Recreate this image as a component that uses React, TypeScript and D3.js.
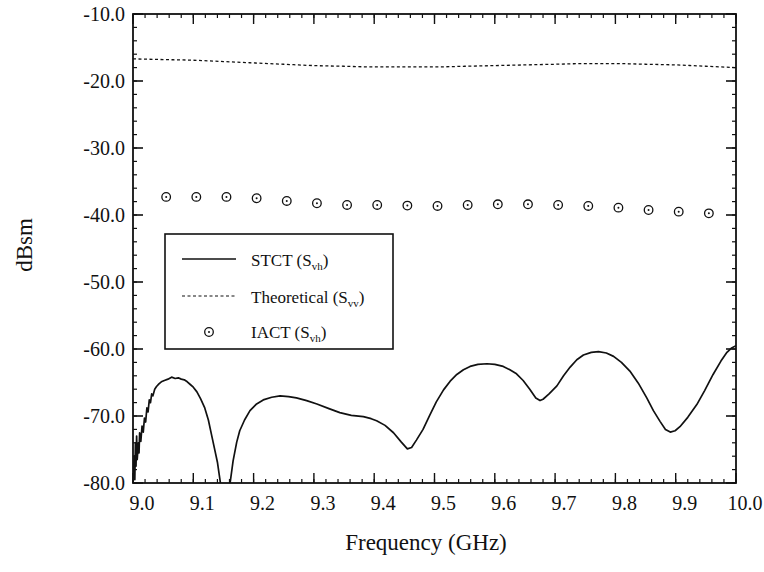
import React from "react";
import * as d3 from "d3";

// ---------- data ----------
const xTickValues = [9.0, 9.1, 9.2, 9.3, 9.4, 9.5, 9.6, 9.7, 9.8, 9.9, 10.0];
const xTickLabels = ["9.0", "9.1", "9.2", "9.3", "9.4", "9.5", "9.6", "9.7", "9.8", "9.9", "10.0"];
const yTickValues = [-10, -20, -30, -40, -50, -60, -70, -80];
const yTickLabels = ["-10.0", "-20.0", "-30.0", "-40.0", "-50.0", "-60.0", "-70.0", "-80.0"];

// STCT (S_vh) measured curve
const stctFreq = [
  9.0, 9.002, 9.003, 9.004, 9.005, 9.006, 9.007, 9.009, 9.01, 9.011, 9.013, 9.015, 9.017, 9.019,
  9.021, 9.023, 9.025, 9.027, 9.029, 9.031, 9.033, 9.036, 9.039, 9.043, 9.047, 9.052, 9.058, 9.064,
  9.07, 9.075, 9.08, 9.085, 9.09, 9.095, 9.1, 9.106, 9.112, 9.119, 9.125, 9.13, 9.135, 9.14, 9.145,
  9.15, 9.155, 9.161, 9.166, 9.172, 9.177, 9.185, 9.194, 9.205, 9.216, 9.23, 9.244, 9.258, 9.271,
  9.288, 9.305, 9.325, 9.343, 9.362, 9.382, 9.395, 9.404, 9.418, 9.432, 9.445, 9.455, 9.462, 9.47,
  9.481, 9.492, 9.503, 9.515, 9.526, 9.537, 9.548, 9.559, 9.572, 9.587, 9.6, 9.614, 9.625, 9.636,
  9.647, 9.658, 9.668, 9.675, 9.68, 9.69, 9.703, 9.714, 9.725, 9.736, 9.747, 9.76, 9.772, 9.785,
  9.797, 9.81, 9.824, 9.838, 9.852, 9.863, 9.874, 9.883, 9.891, 9.899, 9.907, 9.92, 9.935, 9.948,
  9.962, 9.975, 9.985, 9.992, 10.0,
];
const stctDb = [
  -80.0, -76.0, -79.5, -74.0, -77.5, -73.0, -76.5, -74.0, -75.5, -72.5, -73.8, -71.5, -72.4, -70.3,
  -70.9, -68.8, -69.4, -67.6, -68.0, -66.7, -67.0, -66.0, -65.6, -65.2, -64.9, -64.7, -64.5, -64.2,
  -64.4, -64.3, -64.5, -64.6, -64.9, -65.3, -65.7, -66.4, -67.4, -68.8, -70.6, -72.7, -74.8, -76.9, -80.0,
  -86.0, -86.0, -80.0, -76.7, -73.9, -72.2, -70.6, -69.2, -68.2, -67.6, -67.2, -67.0, -67.1, -67.3,
  -67.7, -68.2, -68.9, -69.5, -69.9, -70.1, -70.4, -70.7, -71.4, -72.5, -73.9, -74.9, -74.7, -73.6,
  -72.0, -69.9, -67.9, -66.1, -64.8, -63.8, -63.1, -62.6, -62.3, -62.2, -62.3, -62.6, -63.1, -63.7,
  -64.7, -66.0, -67.3, -67.7, -67.5, -66.7, -65.5, -64.0, -62.7, -61.6, -60.9, -60.5, -60.4, -60.6,
  -61.1, -62.0, -63.3, -65.1, -67.3, -69.2, -70.8, -72.0, -72.4, -72.2, -71.6, -70.2, -68.3, -66.2,
  -63.8, -61.8, -60.5, -59.9, -59.5,
];

// Theoretical (S_vv)
const theoFreq = [9.0, 9.05, 9.1, 9.15, 9.2, 9.25, 9.3, 9.35, 9.4, 9.45, 9.5, 9.55, 9.6, 9.65, 9.7, 9.75, 9.8, 9.85, 9.9, 9.95, 10.0];
const theoDb = [-16.7, -16.8, -16.9, -17.1, -17.3, -17.5, -17.7, -17.8, -17.9, -17.9, -17.9, -17.8, -17.7, -17.6, -17.5, -17.4, -17.4, -17.5, -17.6, -17.8, -18.0];

// IACT (S_vh)
const iactFreq = [9.055, 9.105, 9.155, 9.205, 9.255, 9.305, 9.355, 9.405, 9.455, 9.505, 9.555, 9.605, 9.655, 9.705, 9.755, 9.805, 9.855, 9.905, 9.955];
const iactDb = [-37.3, -37.3, -37.3, -37.5, -37.9, -38.25, -38.5, -38.5, -38.6, -38.65, -38.5, -38.4, -38.4, -38.5, -38.65, -38.9, -39.25, -39.5, -39.75];

// ---------- layout ----------
const W = 764;
const H = 572;
const L = 133;
const R = 736;
const T = 14;
const B = 483;
const FONT = "Liberation Serif, DejaVu Serif, serif";

export default function App() {
  const x = d3.scaleLinear().domain([9.0, 10.0]).range([L, R]);
  const y = d3.scaleLinear().domain([-80, -10]).range([B, T]);

  const stctPts: [number, number][] = stctFreq.map((f, i) => [f, stctDb[i]]);
  const theoPts: [number, number][] = theoFreq.map((f, i) => [f, theoDb[i]]);

  const stctLine = d3
    .line<[number, number]>()
    .x((d) => x(d[0]))
    .y((d) => y(d[1]))
    .curve(d3.curveLinear);
  const theoLine = d3
    .line<[number, number]>()
    .x((d) => x(d[0]))
    .y((d) => y(d[1]))
    .curve(d3.curveMonotoneX);

  const xMinor = d3.range(0, 51).map((i) => 9.0 + i * 0.02);
  const yMinor = d3.range(0, 36).map((i) => -80 + i * 2);

  const majLen = 10;
  const minLen = 4;
  const stroke = "#111";
  const ts = { fontFamily: FONT };

  return (
    <svg
      width={W}
      height={H}
      style={{ position: "absolute", left: 0, top: 0, background: "#fff", fontFamily: FONT }}
    >
      <defs>
        <clipPath id="plotClip">
          <rect x={L} y={T} width={R - L} height={B - T} />
        </clipPath>
      </defs>
      <rect x={0} y={0} width={W} height={H} fill="#fff" />

      {xMinor.map((v, i) => (
        <g key={"xm" + i}>
          <line x1={x(v)} x2={x(v)} y1={B} y2={B - minLen} stroke={stroke} strokeWidth={1.2} />
          <line x1={x(v)} x2={x(v)} y1={T} y2={T + minLen} stroke={stroke} strokeWidth={1.2} />
        </g>
      ))}
      {xTickValues.map((v, i) => (
        <g key={"xM" + i}>
          <line x1={x(v)} x2={x(v)} y1={B} y2={B - majLen} stroke={stroke} strokeWidth={1.4} />
          <line x1={x(v)} x2={x(v)} y1={T} y2={T + majLen} stroke={stroke} strokeWidth={1.4} />
          <text x={x(v) + 9} y={510} fontSize={20} textAnchor="middle" fill={stroke} style={ts}>
            {xTickLabels[i]}
          </text>
        </g>
      ))}
      {yMinor.map((v, i) => (
        <g key={"ym" + i}>
          <line x1={L} x2={L + minLen} y1={y(v)} y2={y(v)} stroke={stroke} strokeWidth={1.2} />
          <line x1={R} x2={R - minLen} y1={y(v)} y2={y(v)} stroke={stroke} strokeWidth={1.2} />
        </g>
      ))}
      {yTickValues.map((v, i) => (
        <g key={"yM" + i}>
          <line x1={L} x2={L + majLen} y1={y(v)} y2={y(v)} stroke={stroke} strokeWidth={1.6} />
          <line x1={R} x2={R - majLen} y1={y(v)} y2={y(v)} stroke={stroke} strokeWidth={1.6} />
          <text x={125} y={y(v) + 6.5} fontSize={20} textAnchor="end" fill={stroke} style={ts}>
            {yTickLabels[i]}
          </text>
        </g>
      ))}

      <rect x={L} y={T} width={R - L} height={B - T} fill="none" stroke={stroke} strokeWidth={1.8} />

      <path
        d={theoLine(theoPts) || ""}
        fill="none"
        stroke={stroke}
        strokeWidth={1.3}
        strokeDasharray="3,2.5"
        clipPath="url(#plotClip)"
      />

      <path
        d={stctLine(stctPts) || ""}
        fill="none"
        stroke={stroke}
        strokeWidth={1.7}
        strokeLinejoin="round"
        clipPath="url(#plotClip)"
      />

      {iactFreq.map((f, i) => (
        <g key={"ia" + i}>
          <circle cx={x(f)} cy={y(iactDb[i])} r={4.3} fill="#fff" stroke={stroke} strokeWidth={1.3} />
          <circle cx={x(f)} cy={y(iactDb[i])} r={1} fill={stroke} />
        </g>
      ))}

      <rect x={165} y={234} width={228} height={115} fill="#fff" stroke={stroke} strokeWidth={1.6} />
      <line x1={182} x2={236} y1={259} y2={259} stroke={stroke} strokeWidth={1.6} />
      <text x={251} y={266} fontSize={17} fill={stroke} style={ts}>
        STCT (S<tspan fontSize={11} dy={4}>vh</tspan>
        <tspan dy={-4}>)</tspan>
      </text>
      <line x1={182} x2={236} y1={296} y2={296} stroke={stroke} strokeWidth={1.2} strokeDasharray="3,2.5" />
      <text x={251} y={303} fontSize={17} fill={stroke} style={ts}>
        Theoretical (S<tspan fontSize={11} dy={4}>vv</tspan>
        <tspan dy={-4}>)</tspan>
      </text>
      <circle cx={209} cy={332} r={4.3} fill="#fff" stroke={stroke} strokeWidth={1.3} />
      <circle cx={209} cy={332} r={1} fill={stroke} />
      <text x={251} y={338} fontSize={17} fill={stroke} style={ts}>
        IACT (S<tspan fontSize={11} dy={4}>vh</tspan>
        <tspan dy={-4}>)</tspan>
      </text>

      <text x={426} y={550} fontSize={23} textAnchor="middle" fill={stroke} style={ts}>
        Frequency (GHz)
      </text>
      <text
        transform={`translate(32,245) rotate(-90)`}
        fontSize={23}
        textAnchor="middle"
        fill={stroke}
        style={ts}
      >
        dBsm
      </text>
    </svg>
  );
}
